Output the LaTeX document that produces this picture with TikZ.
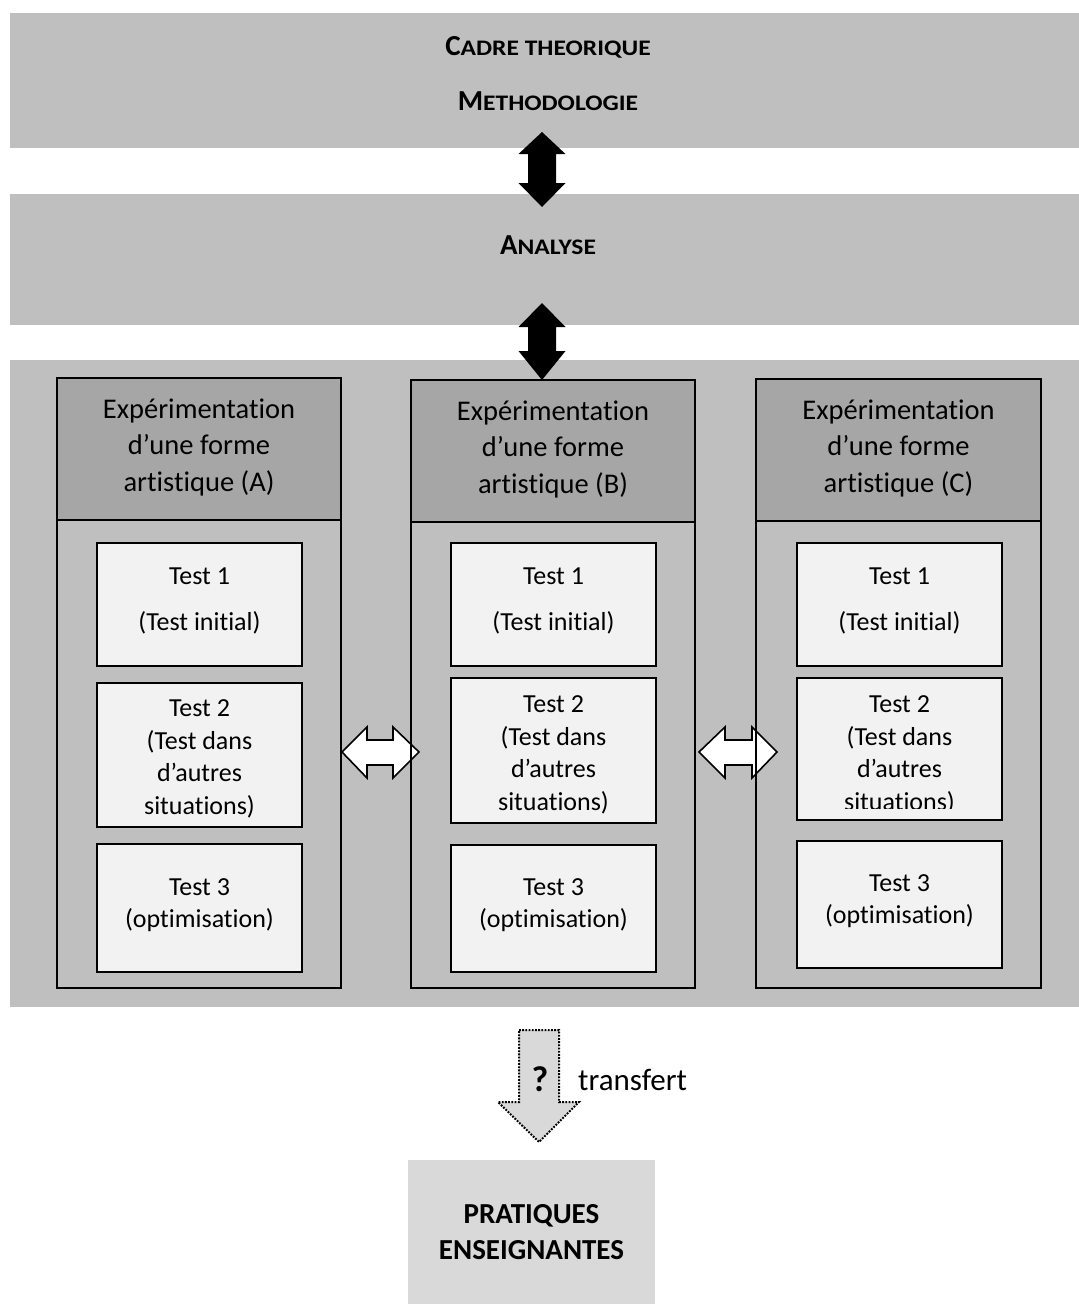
\documentclass[tikz,border=0pt]{standalone}
\usepackage{fontspec}
\setmainfont{Carlito}[Ligatures=NoCommon]
\newfontfamily\scwide[FakeStretch=1.15,Ligatures=NoCommon]{Carlito}
\definecolor{bandgray}{HTML}{BFBFBF}
\definecolor{headgray}{HTML}{A6A6A6}
\definecolor{testfill}{HTML}{F2F2F2}
\definecolor{pratfill}{HTML}{D9D9D9}
\newcommand\smc[2]{{\fontsize{29}{29}\selectfont\bfseries #1}{\fontsize{22.2}{22}\scwide\bfseries #2}}
\newcommand\hdr[1]{Expérimentation\\d’une forme\\artistique (#1)}
\tikzset{
  band/.style={fill=bandgray, inner sep=0pt, outer sep=0pt, anchor=north west},
  colbody/.style={fill=bandgray, inner sep=0pt, outer sep=0pt, anchor=north west, minimum width=284pt, minimum height=610pt},
  colhead/.style={fill=headgray, inner sep=0pt, outer sep=0pt, anchor=north west, minimum width=284pt, minimum height=142pt},
  border/.style={draw=black, line width=1.7pt},
  testbox/.style={fill=testfill, draw=black, line width=1.7pt, inner sep=0pt, outer sep=0pt, anchor=north west, minimum width=205pt},
  hdrtext/.style={align=center, inner sep=0pt, font=\fontsize{28.5}{36.5}\selectfont},
  testtext/.style={align=center, inner sep=0pt, font=\fontsize{26}{32.5}\selectfont},
  whitearrow/.style={fill=white, draw=black, line width=1.6pt, line join=miter},
  blackarrow/.style={fill=black},
  transferarrow/.style={fill=pratfill, draw=black, line width=2pt, dash pattern=on 1.8pt off 1.4pt},
}
\begin{document}
\begin{tikzpicture}[x=1pt,y=-1pt]
\useasboundingbox (0,0) rectangle (1079,1304);
% bands
\node[band, minimum width=1069pt, minimum height=135pt] (cadre) at (10,13) {};
\node[band, minimum width=1069pt, minimum height=131pt] (analyse) at (10,194) {};
\node[band, minimum width=1069pt, minimum height=647pt] (exp) at (10,360) {};
\node[anchor=base, inner sep=0pt] (tcadre) at (548,55) {\smc{C}{ADRE THEORIQUE}};
\node[anchor=base, inner sep=0pt] (tmeth) at (548,110) {\smc{M}{ETHODOLOGIE}};
\node[anchor=base, inner sep=0pt] (tanal) at (548,254) {\smc{A}{NALYSE}};
% columns
\node[colbody] (colA) at (57,378) {};
\node[colhead] (hA) at (57,378) {};
\node[colbody, minimum height=608pt] (colB) at (411,380) {};
\node[colhead] (hB) at (411,380) {};
\node[colbody, minimum width=285pt, minimum height=609pt] (colC) at (756,379) {};
\node[colhead, minimum width=285pt] (hC) at (756,379) {};
\node[hdrtext] (htA) at (199,447) {\hdr{A}};
\node[hdrtext] (htB) at (553,449) {\hdr{B}};
\node[hdrtext] (htC) at (898.5,448) {\hdr{C}};
% tests A
\node[testbox, minimum height=123pt] (A1) at (97,543) {};
\node[testbox, minimum height=144pt] (A2) at (97,683) {};
\node[testbox, minimum height=128pt] (A3) at (97,844) {};
% tests B
\node[testbox, minimum height=123pt] (B1) at (451,543) {};
\node[testbox, minimum height=145pt] (B2) at (451,678) {};
\node[testbox, minimum height=127pt] (B3) at (451,845) {};
% tests C
\node[testbox, minimum height=123pt] (C1) at (797,543) {};
\node[testbox, minimum height=142pt] (C2) at (797,678) {};
\node[testbox, minimum height=127pt] (C3) at (797,841) {};
% test texts
\node[testtext] (tA1) at (199.5,601) {Test 1\\[13pt](Test initial)};
\node[testtext] (tB1) at (553.5,601) {Test 1\\[13pt](Test initial)};
\node[testtext] (tC1) at (899.5,601) {Test 1\\[13pt](Test initial)};
\node[testtext] (tA2) at (199.5,759) {Test 2\\(Test dans\\d’autres\\situations)};
\node[testtext] (tB2) at (553.5,755) {Test 2\\(Test dans\\d’autres\\situations)};
\begin{scope}
\clip (797,678) rectangle (1002,808);
\node[testtext] (tC2) at (899.5,755) {Test 2\\(Test dans\\d’autres\\situations)};
\end{scope}
\node[testtext] (tA3) at (199.5,905) {Test 3\\(optimisation)};
\node[testtext] (tB3) at (553.5,905) {Test 3\\(optimisation)};
\node[testtext] (tC3) at (899.5,901) {Test 3\\(optimisation)};
% white double arrows between columns
\draw[whitearrow] (342,752) -- (367,727) -- (367,740) -- (393,740) -- (393,727) -- (419,752) -- (393,778) -- (393,765) -- (367,765) -- (367,778) -- cycle;
\draw[whitearrow] (699,752) -- (725,727) -- (725,740) -- (752,740) -- (752,727) -- (777,752) -- (752,778) -- (752,765) -- (725,765) -- (725,778) -- cycle;
% column borders on top
\draw[border] (colA.north west) rectangle (colA.south east);
\draw[border] (hA.south west) -- (hA.south east);
\draw[border] (colB.north west) rectangle (colB.south east);
\draw[border] (hB.south west) -- (hB.south east);
\draw[border] (colC.north west) rectangle (colC.south east);
\draw[border] (hC.south west) -- (hC.south east);
% black double arrows
\fill[blackarrow] (542,132) -- (565.5,154) -- (556,154) -- (556,183) -- (565.5,183) -- (542,207) -- (518.5,183) -- (528,183) -- (528,154) -- (518.5,154) -- cycle;
\fill[blackarrow] (542,303) -- (565.5,327) -- (556,327) -- (556,351) -- (565.5,351) -- (542,380) -- (518.5,351) -- (528,351) -- (528,327) -- (518.5,327) -- cycle;
% transfer arrow
\draw[transferarrow] (519,1030) -- (559,1030) -- (559,1102) -- (579,1102) -- (539,1142) -- (498,1102) -- (519,1102) -- cycle;
\node[anchor=base, inner sep=0pt, font=\fontsize{36}{36}\selectfont\bfseries] (qm) at (540,1091) {?};
\node[anchor=base west, inner sep=0pt, font=\fontsize{31}{31}\selectfont] (transf) at (578,1090) {transfert};
% pratiques
\node[fill=pratfill, inner sep=0pt, outer sep=0pt, anchor=north west, minimum width=247pt, minimum height=144pt] (prat) at (408,1160) {};
\node[align=center, inner sep=0pt, font=\fontsize{29}{36}\selectfont\bfseries] (tprat) at (531.5,1232) {PRATIQUES\\ENSEIGNANTES};
\end{tikzpicture}
\end{document}
